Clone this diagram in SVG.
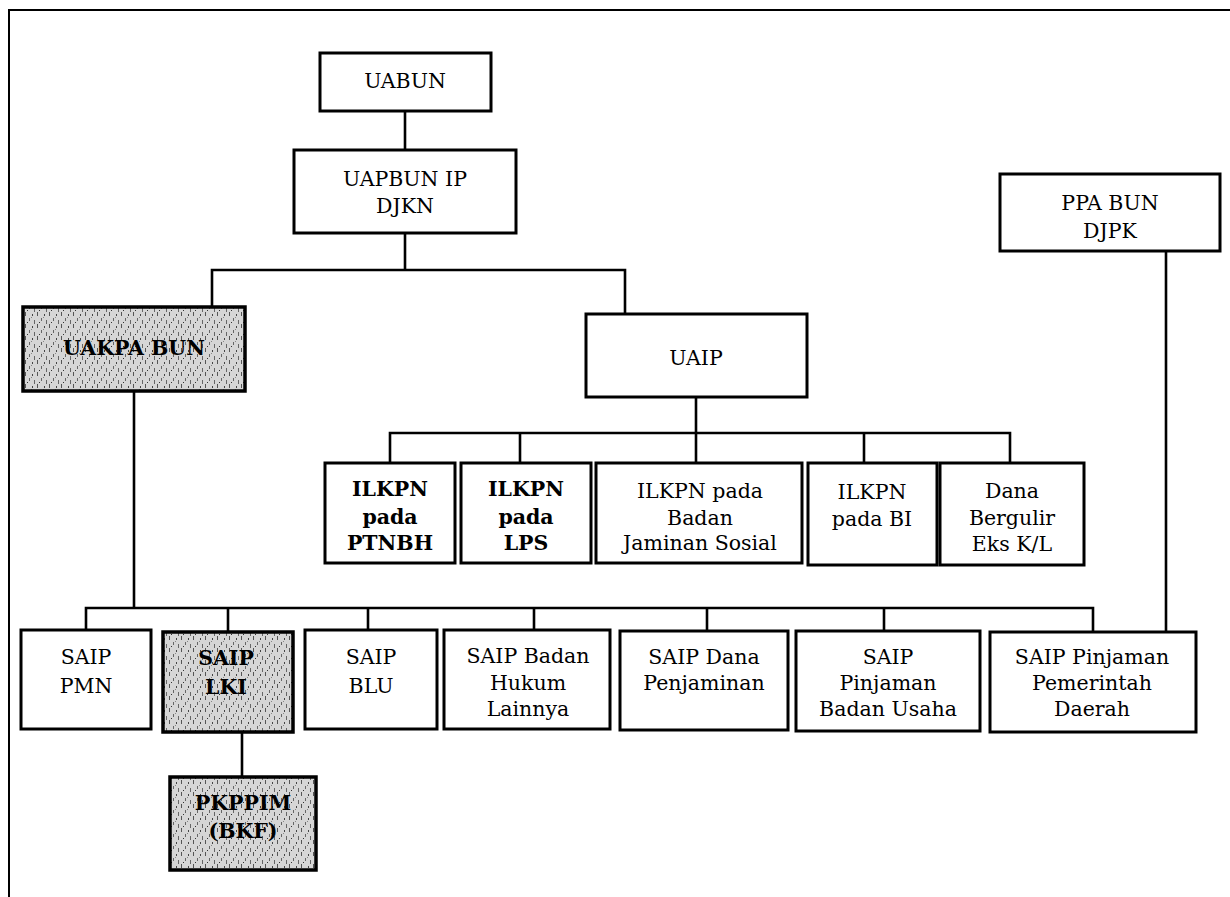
<svg xmlns="http://www.w3.org/2000/svg" width="1230" height="897" viewBox="0 0 1230 897">
<style>
.box{fill:#fff;stroke:#000;stroke-width:3}
.shade{fill:url(#speckle);stroke:#000;stroke-width:3.5}
.t{font-family:"DejaVu Serif","Liberation Serif",serif;font-size:20.5px;fill:#000;text-anchor:middle}
.b{font-weight:bold}
.c{fill:none;stroke:#000;stroke-width:2.6}
.frame{fill:none;stroke:#000;stroke-width:2}
</style>
<defs>
<pattern id="speckle" width="12" height="12" patternUnits="userSpaceOnUse">
<rect width="12" height="12" fill="#d6d6d6"/>
<rect x="1" y="0" width="1" height="4" fill="#555"/>
<rect x="5" y="6" width="1" height="3" fill="#666"/>
<rect x="8" y="2" width="1" height="2" fill="#444"/>
<rect x="10" y="8" width="1" height="4" fill="#666"/>
<rect x="3" y="10" width="1" height="1" fill="#333"/>
<rect x="7" y="5" width="1" height="1" fill="#888"/>
</pattern>
</defs>
<g id="frame">
<path class="frame" d="M9,897 V10 H1230"/>
</g>
<g id="connectors">
<path class="c" d="M405,111 V150"/>
<path class="c" d="M405,233 V270"/>
<path class="c" d="M212,307 V270 H625 V314"/>
<path class="c" d="M696,397 V433"/>
<path class="c" d="M390,463 V433 H1010 V463"/>
<path class="c" d="M520,433 V463"/>
<path class="c" d="M696,433 V463"/>
<path class="c" d="M864,433 V463"/>
<path class="c" d="M134,391 V608"/>
<path class="c" d="M86,630 V608 H1093 V632"/>
<path class="c" d="M228,608 V632"/>
<path class="c" d="M368,608 V630"/>
<path class="c" d="M534,608 V630"/>
<path class="c" d="M707,608 V631"/>
<path class="c" d="M884,608 V631"/>
<path class="c" d="M242,732 V777"/>
<path class="c" d="M1166,251 V632"/>
</g>
<g id="uabun">
<rect class="box" x="320" y="53" width="171" height="58"/>
<text class="t" x="405" y="88">UABUN</text>
</g>
<g id="uapbun">
<rect class="box" x="294" y="150" width="222" height="83"/>
<text class="t" x="405" y="186">UAPBUN IP</text>
<text class="t" x="405" y="213">DJKN</text>
</g>
<g id="ppabun">
<rect class="box" x="1000" y="174" width="220" height="77"/>
<text class="t" x="1110" y="210">PPA BUN</text>
<text class="t" x="1110" y="238">DJPK</text>
</g>
<g id="uakpabun">
<rect class="shade" x="23" y="307" width="222" height="84"/>
<text class="t b" x="134" y="355">UAKPA BUN</text>
</g>
<g id="uaip">
<rect class="box" x="586" y="314" width="221" height="83"/>
<text class="t" x="696" y="365">UAIP</text>
</g>
<g id="ilkpn-ptnbh">
<rect class="box" x="325" y="463" width="130" height="100"/>
<text class="t b" x="390" y="496">ILKPN</text>
<text class="t b" x="390" y="524">pada</text>
<text class="t b" x="390" y="550">PTNBH</text>
</g>
<g id="ilkpn-lps">
<rect class="box" x="461" y="463" width="130" height="100"/>
<text class="t b" x="526" y="496">ILKPN</text>
<text class="t b" x="526" y="524">pada</text>
<text class="t b" x="526" y="550">LPS</text>
</g>
<g id="ilkpn-bjs">
<rect class="box" x="596" y="463" width="206" height="100"/>
<text class="t" x="700" y="498">ILKPN pada</text>
<text class="t" x="700" y="525">Badan</text>
<text class="t" x="700" y="550">Jaminan Sosial</text>
</g>
<g id="ilkpn-bi">
<rect class="box" x="808" y="463" width="129" height="102"/>
<text class="t" x="872" y="499">ILKPN</text>
<text class="t" x="872" y="526">pada BI</text>
</g>
<g id="dana-bergulir">
<rect class="box" x="940" y="463" width="144" height="102"/>
<text class="t" x="1012" y="498">Dana</text>
<text class="t" x="1012" y="525">Bergulir</text>
<text class="t" x="1012" y="551">Eks K/L</text>
</g>
<g id="saip-pmn">
<rect class="box" x="21" y="630" width="130" height="99"/>
<text class="t" x="86" y="664">SAIP</text>
<text class="t" x="86" y="693">PMN</text>
</g>
<g id="saip-lki">
<rect class="shade" x="163" y="632" width="130" height="100"/>
<text class="t b" x="226" y="665">SAIP</text>
<text class="t b" x="226" y="694">LKI</text>
</g>
<g id="pkppim">
<rect class="shade" x="170" y="777" width="146" height="93"/>
<text class="t b" x="243" y="810">PKPPIM</text>
<text class="t b" x="243" y="838">(BKF)</text>
</g>
<g id="saip-blu">
<rect class="box" x="305" y="630" width="132" height="99"/>
<text class="t" x="371" y="664">SAIP</text>
<text class="t" x="371" y="693">BLU</text>
</g>
<g id="saip-bhl">
<rect class="box" x="444" y="630" width="166" height="99"/>
<text class="t" x="528" y="663">SAIP Badan</text>
<text class="t" x="528" y="690">Hukum</text>
<text class="t" x="528" y="716">Lainnya</text>
</g>
<g id="saip-dp">
<rect class="box" x="620" y="631" width="168" height="99"/>
<text class="t" x="704" y="664">SAIP Dana</text>
<text class="t" x="704" y="690">Penjaminan</text>
</g>
<g id="saip-pbu">
<rect class="box" x="796" y="631" width="184" height="100"/>
<text class="t" x="888" y="664">SAIP</text>
<text class="t" x="888" y="690">Pinjaman</text>
<text class="t" x="888" y="716">Badan Usaha</text>
</g>
<g id="saip-ppd">
<rect class="box" x="990" y="632" width="206" height="100"/>
<text class="t" x="1092" y="664">SAIP Pinjaman</text>
<text class="t" x="1092" y="690">Pemerintah</text>
<text class="t" x="1092" y="716">Daerah</text>
</g>
</svg>
